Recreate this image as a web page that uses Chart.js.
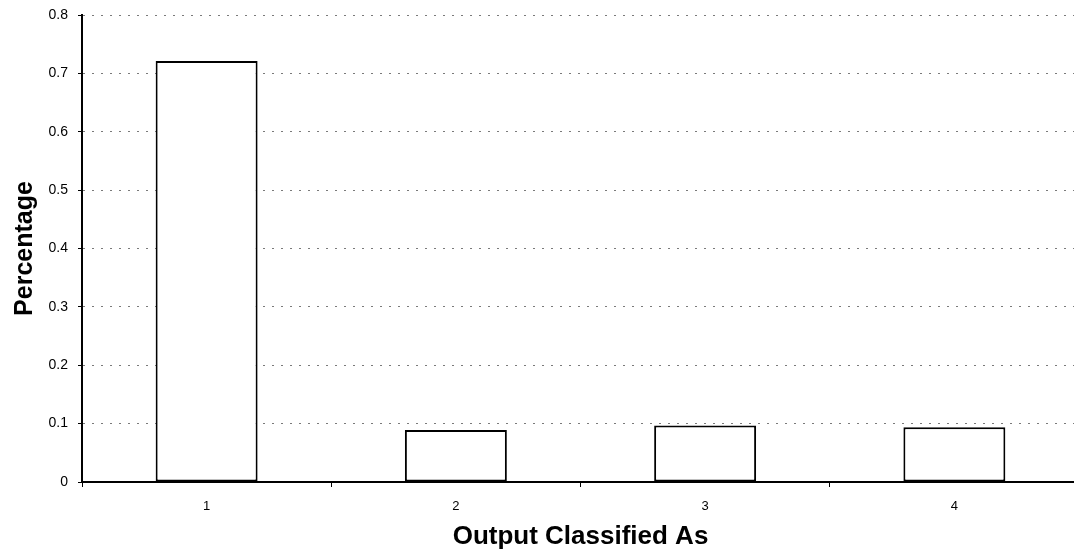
<!DOCTYPE html>
<html>
<head>
<meta charset="utf-8">
<script src="https://cdn.jsdelivr.net/npm/chart.js@4/dist/chart.umd.min.js"></script>
<style>
  html, body { margin: 0; padding: 0; background: #fff; overflow: hidden; }
  #wrap { width: 1074px; height: 558px; overflow: hidden; }
  #c { display: block; }
</style>
</head>
<body>
<div id="wrap"><canvas id="c" width="1079" height="558"></canvas></div>
<script>
// Share of outputs in each class
const categories = ['1', '2', '3', '4'];
const percentages = [0.721, 0.089, 0.097, 0.094];
const yTicks = [0, 0.1, 0.2, 0.3, 0.4, 0.5, 0.6, 0.7, 0.8];

const FONT = 'Arial, "Liberation Sans", Helvetica, sans-serif';

new Chart(document.getElementById('c'), {
  type: 'bar',
  data: {
    labels: categories,
    datasets: [{
      data: percentages,
      backgroundColor: '#ffffff',
      borderColor: '#000000',
      borderWidth: 2,
      borderSkipped: false,
      categoryPercentage: 0.81,
      barPercentage: 0.505
    }]
  },
  options: {
    responsive: false,
    animation: false,
    devicePixelRatio: 1,
    layout: { padding: { top: 15, right: 0, left: 0, bottom: 0 } },
    plugins: { legend: { display: false }, tooltip: { enabled: false } },
    scales: {
      x: {
        offset: true,
        grid: {
          offset: true,
          drawOnChartArea: false,
          drawTicks: true,
          tickLength: 5,
          tickColor: '#000'
        },
        border: { display: true, color: '#000', width: 2 },
        ticks: { color: '#000', font: { family: FONT, size: 13 }, padding: 12 },
        title: {
          display: true,
          text: 'Output Classified As',
          color: '#000',
          font: { family: FONT, size: 26, weight: 'bold' },
          padding: { top: 4, bottom: 6 }
        },
        afterFit: s => { s.height = 76; }
      },
      y: {
        min: 0,
        max: 0.8,
        afterBuildTicks: s => { s.ticks = yTicks.map(v => ({ value: v })); },
        grid: {
          color: ctx => ctx.tick && ctx.tick.value === 0 ? 'rgba(0,0,0,0)' : '#7a7a7a',
          lineWidth: 1,
          drawTicks: true,
          tickLength: 4,
          tickColor: '#000',
          tickBorderDash: []
        },
        border: { display: true, color: '#000', width: 2, dash: [2, 7] },
        ticks: {
          color: '#000',
          font: { family: FONT, size: 14 },
          padding: 10,
          callback: v => String(Math.round(v * 10) / 10)
        },
        title: {
          display: true,
          text: 'Percentage',
          color: '#000',
          font: { family: FONT, size: 25, weight: 'bold' },
          padding: { top: 10, bottom: 4 }
        },
        afterFit: s => { s.width = 82; s.paddingTop = 0; s.paddingBottom = 0; }
      }
    }
  }
});
</script>
</body>
</html>
